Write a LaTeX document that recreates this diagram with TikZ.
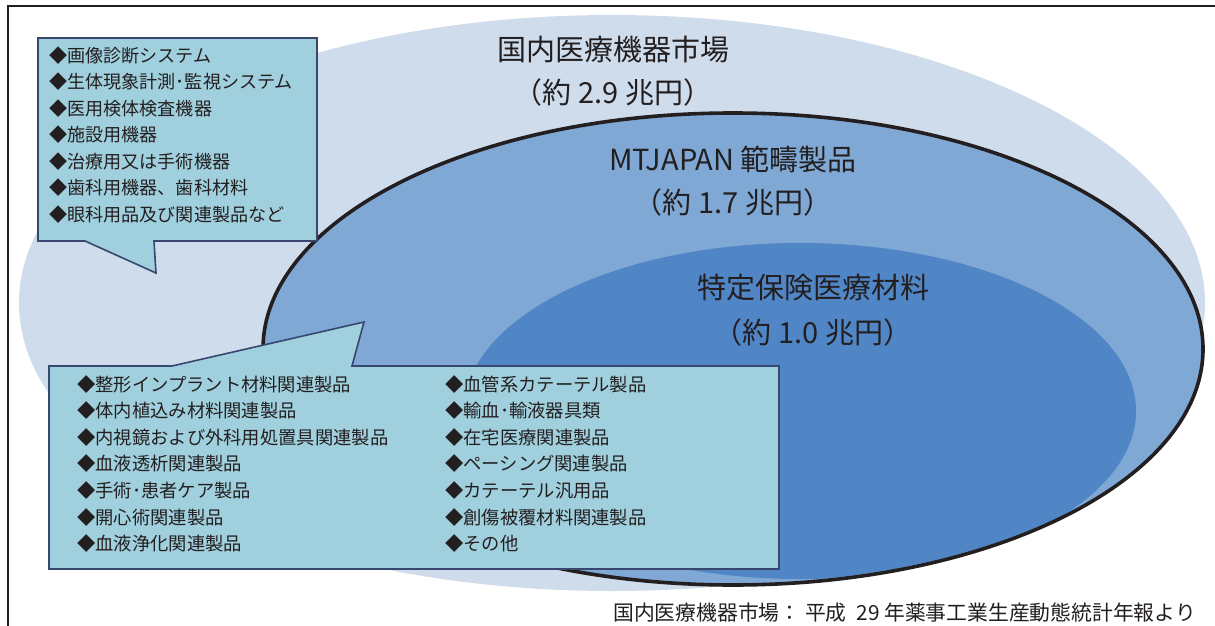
\documentclass[tikz,border=0pt]{standalone}
\usepackage{fontspec}
\setmainfont{Noto Sans CJK JP}
\usetikzlibrary{calc}
\definecolor{outerc}{HTML}{CFDCEB}
\definecolor{midc}{HTML}{7FA8D5}
\definecolor{innerc}{HTML}{5085C6}
\definecolor{boxc}{HTML}{A0CFDD}
\definecolor{boxl}{HTML}{37476F}
\definecolor{ink}{HTML}{231F20}
\tikzset{
  x=1pt,y=-1pt,
  titletext/.style={inner sep=0pt,font=\fontsize{29}{33}\selectfont,text=ink,anchor=center},
  itemtext/.style={inner sep=0pt,font=\fontsize{18.1}{20}\selectfont,text=ink,anchor=west},
  itemtextb/.style={inner sep=0pt,font=\fontsize{18.3}{20}\selectfont,text=ink,anchor=west},
  callout/.style={fill=boxc,draw=boxl,line width=1.6pt,line join=miter},
}
\begin{document}
\begin{tikzpicture}
\useasboundingbox (0,0) rectangle (1215,626);
\fill[white] (0,0) rectangle (1215,626);
\fill[outerc] (612,303) ellipse [x radius=593,y radius=288];
\fill[midc] (733,349) ellipse [x radius=470,y radius=236];
\begin{scope}
\clip (733,349) ellipse [x radius=468,y radius=234];
\fill[innerc] (800,411) ellipse [x radius=336,y radius=168];
\end{scope}
\draw[ink,line width=3.6pt] (733,349) ellipse [x radius=470,y radius=236];
\draw[ink,line width=1.8pt] (8,626) -- (8,6) -- (1215,6);
\draw[callout] (38,38) -- (317,38) -- (317,241) -- (154,241) -- (156,273) -- (85,241) -- (38,241) -- cycle;
\draw[callout] (49,366) -- (172,366) -- (364,322) -- (352,366) -- (779,366) -- (779,569) -- (49,569) -- cycle;
\node[titletext] (t1) at (613,49) {国内医療機器市場};
\node[titletext] (t2) at (613,92) {（約 2.9 兆円）};
\node[titletext] (t3) at (733,159) {MTJAPAN 範疇製品};
\node[titletext] (t4) at (733,202) {（約 1.7 兆円）};
\node[titletext] (t5) at (813,288) {特定保険医療材料};
\node[titletext] (t6) at (813,332) {（約 1.0 兆円）};
\foreach \i/\y/\s in {a/56/画像診断システム,b/82/生体現象計測･監視システム,c/109/医用検体検査機器,d/135/施設用機器,e/162/治療用又は手術機器,f/188/歯科用機器、歯科材料,g/215/眼科用品及び関連製品など}
  \node[itemtext] (l\i) at (49,\y) {◆\s};
\foreach \i/\y/\s in {a/385/整形インプラント材料関連製品,b/411/体内植込み材料関連製品,c/438/内視鏡および外科用処置具関連製品,d/464/血液透析関連製品,e/491/手術･患者ケア製品,f/518/開心術関連製品,g/544/血液浄化関連製品}
  \node[itemtextb] (m\i) at (77,\y) {◆\s};
\foreach \i/\y/\s in {a/385/血管系カテーテル製品,b/411/輸血･輸液器具類,c/438/在宅医療関連製品,d/464/ペーシング関連製品,e/491/カテーテル汎用品,f/518/創傷被覆材料関連製品,g/544/その他}
  \node[itemtextb] (r\i) at (445,\y) {◆\s};
\node[inner sep=0pt,anchor=east,font=\fontsize{20.8}{24}\selectfont,text=ink] (src) at (1196,613) {国内医療機器市場： 平成\hspace{5pt} 29 年薬事工業生産動態統計年報より};
\end{tikzpicture}
\end{document}
